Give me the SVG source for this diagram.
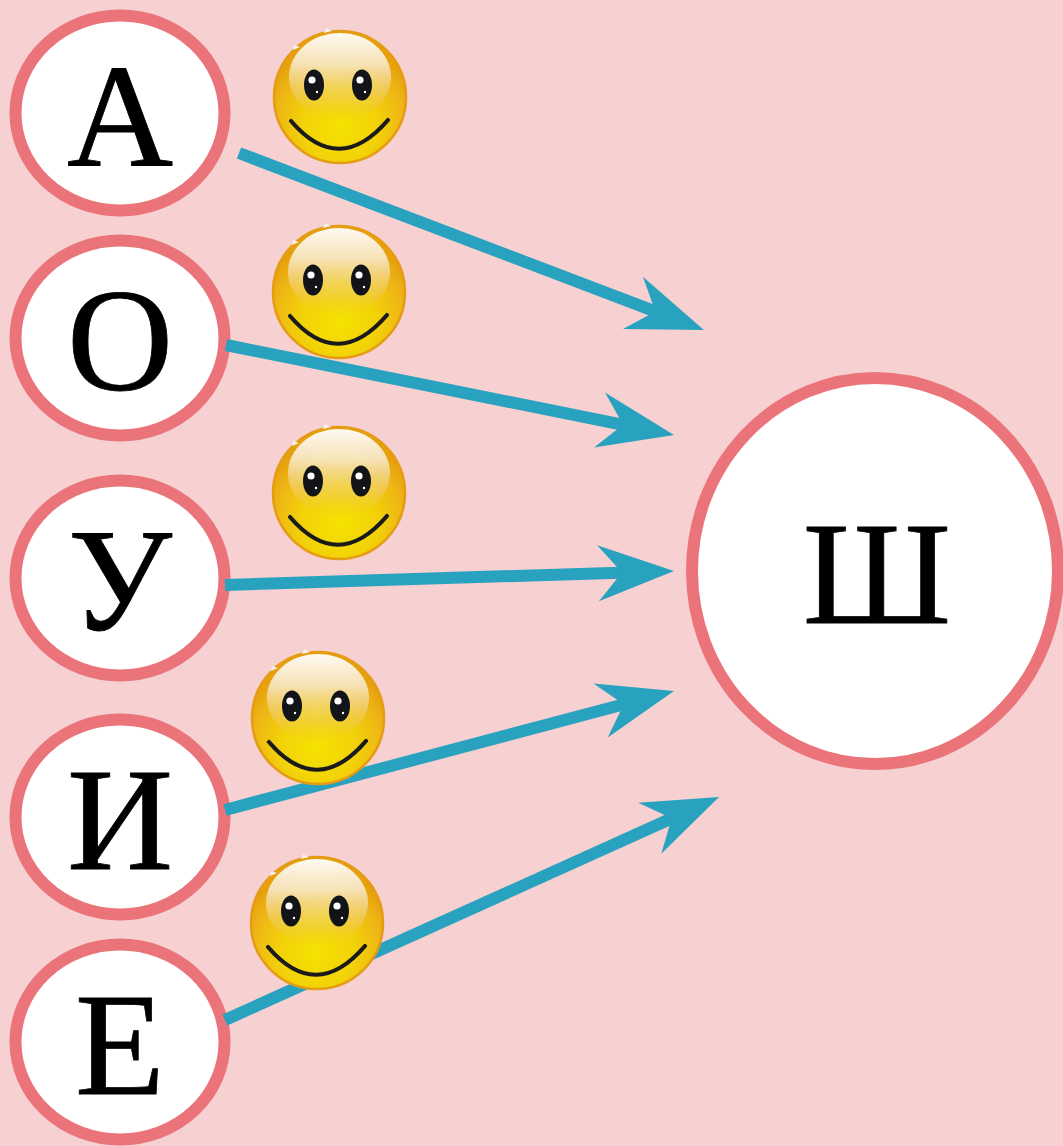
<svg xmlns="http://www.w3.org/2000/svg" xmlns:xlink="http://www.w3.org/1999/xlink" width="1063" height="1146" viewBox="0 0 1063 1146">
<style>
.node ellipse{fill:#ffffff;stroke:#eb747a;stroke-width:12}
.node text{font-family:"Liberation Serif","Times New Roman",serif;font-size:147px;fill:#000;stroke:#000;stroke-width:0.8;text-anchor:middle}
.conn line{stroke:#29a2bf;stroke-width:12;fill:none;marker-end:url(#head)}
</style>
<defs>
<marker id="head" markerUnits="userSpaceOnUse" orient="auto" viewBox="-40 -30 85 60" refX="0" refY="0" markerWidth="85" markerHeight="60">
<path d="M39,0 L-37,-28 L-13,0 L-37,28 Z" fill="#29a2bf"/>
</marker>
<radialGradient id="face" cx="0.5" cy="0.72" r="0.62">
<stop offset="0" stop-color="#f5e302"/>
<stop offset="0.45" stop-color="#f2d208"/>
<stop offset="0.8" stop-color="#eeb516"/>
<stop offset="1" stop-color="#e6a00c"/>
</radialGradient>
<linearGradient id="gloss" x1="0" y1="0" x2="0" y2="1">
<stop offset="0" stop-color="#ffffff" stop-opacity="0.95"/>
<stop offset="0.35" stop-color="#f8ecd4" stop-opacity="0.85"/>
<stop offset="0.75" stop-color="#f0cc70" stop-opacity="0.45"/>
<stop offset="1" stop-color="#f0c030" stop-opacity="0"/>
</linearGradient>
<g id="smiley">
<circle r="66" fill="url(#face)" stroke="#e59c14" stroke-width="2.5"/>
<ellipse cx="0" cy="-20" rx="51" ry="44" fill="url(#gloss)"/>
<path d="M-14,-69 L-8,-66 L-16,-64 Z M-46,-52 L-40,-50 L-47,-47 Z" fill="#f4f0f0"/>
<ellipse cx="-26" cy="-12" rx="10" ry="15.5" fill="#121418"/>
<ellipse cx="22" cy="-12" rx="10" ry="15.5" fill="#121418"/>
<circle cx="-28" cy="-17" r="3.6" fill="#ffffff"/>
<circle cx="20" cy="-17" r="3.6" fill="#ffffff"/>
<circle cx="-23" cy="-5" r="1.2" fill="#ffffff"/>
<circle cx="25" cy="-5" r="1.2" fill="#ffffff"/>
<path d="M-49,24 Q-1,80 48,23" fill="none" stroke="#1a1a1a" stroke-width="4.2" stroke-linecap="round"/>
</g>
</defs>
<rect width="1063" height="1146" fill="#f7d0d2"/>
<g id="node-A" class="node"><ellipse cx="120" cy="113" rx="104.5" ry="97.5"/><text x="120" y="165">А</text></g>
<g id="node-O" class="node"><ellipse cx="120" cy="338" rx="104.5" ry="97.5"/><text x="120" y="390">О</text></g>
<g id="node-U" class="node"><ellipse cx="120" cy="578" rx="104.5" ry="97.5"/><text x="120" y="630">У</text></g>
<g id="node-I" class="node"><ellipse cx="120" cy="817" rx="104.5" ry="97.5"/><text x="120" y="869">И</text></g>
<g id="node-E" class="node"><ellipse cx="120" cy="1042" rx="104.5" ry="97.5"/><text x="120" y="1094">Е</text></g>
<g id="node-SH" class="node"><ellipse cx="875" cy="571" rx="183" ry="193"/><text x="877" y="623">Ш</text></g>
<g id="connectors" class="conn">
<line x1="239" y1="153" x2="667.5" y2="316.1"/>
<line x1="226" y1="345" x2="635.8" y2="427.3"/>
<line x1="225" y1="585" x2="635" y2="572.2"/>
<line x1="225" y1="810" x2="636.3" y2="701"/>
<line x1="225" y1="1020" x2="683.5" y2="813"/>
</g>
<g id="smileys">
<use href="#smiley" x="340" y="97"/>
<use href="#smiley" x="339" y="292"/>
<use href="#smiley" x="339" y="493"/>
<use href="#smiley" x="318" y="718"/>
<use href="#smiley" x="317" y="923"/>
</g>
</svg>
